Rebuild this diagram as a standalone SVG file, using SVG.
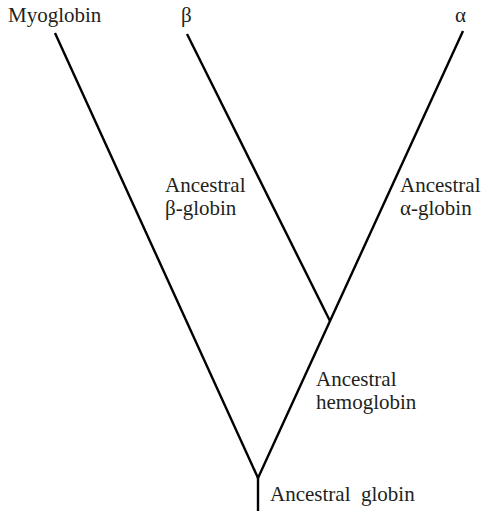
<svg xmlns="http://www.w3.org/2000/svg" width="488" height="513" viewBox="0 0 488 513">
<style>
.lbl{font-family:"Liberation Serif","Times New Roman",serif;font-size:21px;fill:#231f20}
.br{stroke:#000;stroke-width:2.4;fill:none;stroke-linecap:butt}
</style>
<rect width="488" height="513" fill="#fff"/>
<g id="connectors">
<line class="br" x1="55" y1="33" x2="258" y2="478"/>
<line class="br" x1="187" y1="34" x2="330" y2="321"/>
<line class="br" x1="463" y1="31" x2="258" y2="478"/>
<line class="br" x1="258" y1="477" x2="258" y2="511"/>
</g>
<g id="myoglobin"><text class="lbl" x="8" y="22">Myoglobin</text></g>
<g id="beta"><text class="lbl" x="181" y="22">β</text></g>
<g id="alpha"><text class="lbl" x="455" y="22">α</text></g>
<g id="ancestral-beta"><text class="lbl" x="165" y="192">Ancestral</text><text class="lbl" x="165" y="215">β-globin</text></g>
<g id="ancestral-alpha"><text class="lbl" x="400" y="192">Ancestral</text><text class="lbl" x="400" y="215">α-globin</text></g>
<g id="ancestral-hemoglobin"><text class="lbl" x="316" y="386">Ancestral</text><text class="lbl" x="316" y="409">hemoglobin</text></g>
<g id="ancestral-globin"><text class="lbl" x="270" y="501" xml:space="preserve">Ancestral  globin</text></g>
</svg>
